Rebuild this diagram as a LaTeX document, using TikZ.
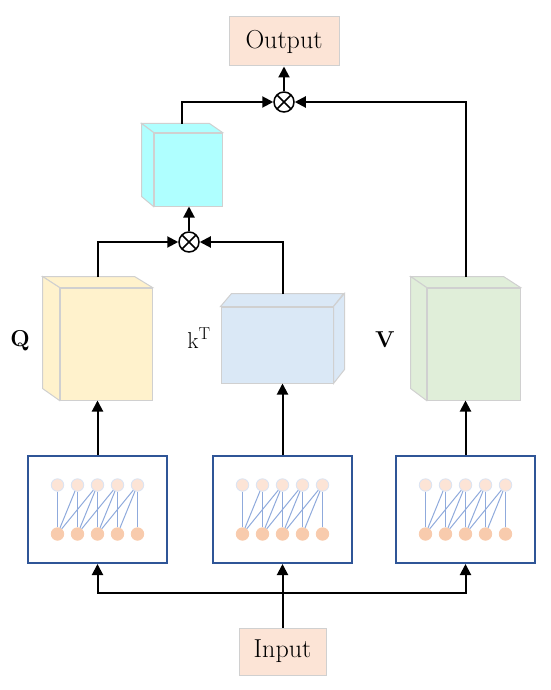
\documentclass[tikz,border=0pt]{standalone}
\usetikzlibrary{arrows.meta}
\definecolor{peach}{HTML}{FCE4D6}
\definecolor{peachdk}{HTML}{F8CBAD}
\definecolor{qcol}{HTML}{FFF2CC}
\definecolor{kcol}{HTML}{DAE8F6}
\definecolor{vcol}{HTML}{E0EED9}
\definecolor{ccol}{HTML}{AFFFFF}
\definecolor{edgegray}{HTML}{D0D0D0}
\definecolor{boxblue}{HTML}{2F5597}
\definecolor{linkblue}{HTML}{8FAADC}
\definecolor{nodeedge}{HTML}{DAE3F3}
\begin{document}
\begin{tikzpicture}[x=1pt,y=-1pt,
  face/.style={draw=edgegray, line width=1pt, inner sep=0pt},
  io/.style={draw=edgegray, line width=1pt, fill=peach, inner sep=0pt, font=\fontsize{26}{30}\selectfont},
  lbl/.style={font=\fontsize{23}{27}\selectfont, inner sep=0pt},
  arr/.style={-{Triangle[length=11pt,width=11pt]}, line width=2pt},
  mult/.style={circle, draw, line width=1.5pt, minimum size=20pt, inner sep=0pt,
    path picture={\draw[line width=1.5pt] (path picture bounding box.north west) -- (path picture bounding box.south east)
      (path picture bounding box.north east) -- (path picture bounding box.south west);}},
  netbox/.style={draw=boxblue, line width=2pt, minimum width=139pt, minimum height=107pt, inner sep=0pt},
  tn/.style={circle, fill=peach, draw=nodeedge, line width=0.8pt, minimum size=12.5pt, inner sep=0pt},
  bn/.style={circle, fill=peachdk, draw=peachdk, line width=0.8pt, minimum size=12.5pt, inner sep=0pt},
  link/.style={draw=linkblue, line width=1pt}
]
\useasboundingbox (0,0) rectangle (550,690);

% Output / Input
\node[io, minimum width=110pt, minimum height=49pt] (out) at (284,41.5) {Output};
\node[io, minimum width=87pt, minimum height=47pt] (in) at (282.5,651.5) {Input};

% multiply nodes
\node[mult] (m2) at (284,102) {};
\node[mult] (m1) at (189,242) {};

% cyan cube
\node[face, fill=ccol, minimum width=68pt, minimum height=73pt] (C) at (188,169.5) {};
\filldraw[face, fill=ccol] (C.north west) -- ++(-12,-9) -- ++(68,0) -- (C.north east) -- cycle;
\filldraw[face, fill=ccol] (C.north west) -- ++(-12,-9) -- ++(0,73) -- (C.south west) -- cycle;
\coordinate (Ctop) at (182,124);

% Q cube
\node[face, fill=qcol, minimum width=92pt, minimum height=112pt] (Q) at (106,344) {};
\filldraw[face, fill=qcol] (Q.north west) -- ++(-17,-11) -- ++(92,0) -- (Q.north east) -- cycle;
\filldraw[face, fill=qcol] (Q.north west) -- ++(-17,-11) -- ++(0,112) -- (Q.south west) -- cycle;
\coordinate (Qtop) at (98,277);

% K cube
\node[face, fill=kcol, minimum width=112pt, minimum height=76pt] (K) at (277,345) {};
\filldraw[face, fill=kcol] (K.north west) -- ++(11,-13) -- ++(112,0) -- (K.north east) -- cycle;
\filldraw[face, fill=kcol] (K.north east) -- ++(11,-13) -- ++(0,76) -- (K.south east) -- cycle;
\coordinate (Ktop) at (283,294);

% V cube
\node[face, fill=vcol, minimum width=93pt, minimum height=112pt] (V) at (473.5,344) {};
\filldraw[face, fill=vcol] (V.north west) -- ++(-16,-11) -- ++(93,0) -- (V.north east) -- cycle;
\filldraw[face, fill=vcol] (V.north west) -- ++(-16,-11) -- ++(0,112) -- (V.south west) -- cycle;
\coordinate (Vtop) at (466,277);

% labels
\node[lbl] (lq) at (20,341) {\textbf{Q}};
\node[lbl] (lk) at (199,338) {k$^{\mathrm{T}}$};
\node[lbl] (lv) at (385,340) {\textbf{V}};

% network boxes
\node[netbox] (B1) at (97.5,509.5) {};
\node[netbox] (B2) at (282.5,509.5) {};
\node[netbox] (B3) at (465.5,509.5) {};

\foreach \b/\cx in {1/97.5,2/282.5,3/465.5}{
  \foreach \i in {1,...,5}{
    \node[tn] (t\b\i) at (\cx-60+20*\i,485) {};
    \node[bn] (u\b\i) at (\cx-60+20*\i,534) {};
  }
  \foreach \i in {1,...,5} \draw[link] (t\b\i) -- (u\b\i);
  \foreach \i/\j in {2/1,3/1,3/2,4/2,4/3,5/3,5/4} \draw[link] (t\b\i) -- (u\b\j);
}

% connectors
\draw[arr] (Qtop) |- (m1);
\draw[arr] (Ktop) |- (m1);
\draw[arr] (m1) -- (m1 |- C.south);
\draw[arr] (Ctop) |- (m2);
\draw[arr] (Vtop) |- (m2);
\draw[arr] (m2) -- (out);

\draw[arr] (B1.north) -- (B1.north |- Q.south);
\draw[arr] (B2.north) -- (B2.north |- K.south);
\draw[arr] (B3.north) -- (B3.north |- V.south);

\coordinate (split) at (282.5,593);
\draw[arr] (in) -- (B2);
\draw[arr] (split) -| (B1);
\draw[arr] (split) -| (B3);
\end{tikzpicture}
\end{document}
